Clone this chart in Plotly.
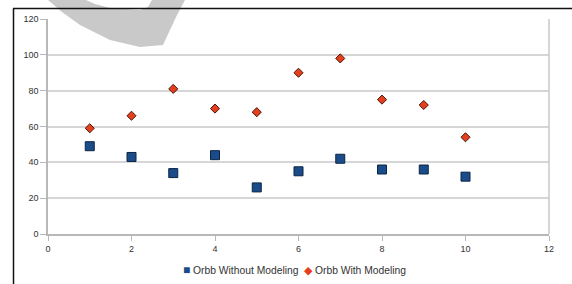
import plotly.graph_objects as go

x_vals = [1, 2, 3, 4, 5, 6, 7, 8, 9, 10]
without_modeling = [49, 43, 34, 44, 26, 35, 42, 36, 36, 32]
with_modeling = [59, 66, 81, 70, 68, 90, 98, 75, 72, 54]
series_names = ["Orbb Without Modeling", "Orbb With Modeling"]
series_colors = ["#1b4c8a", "#e5401d"]
x_ticks = [0, 2, 4, 6, 8, 10, 12]
y_ticks = [0, 20, 40, 60, 80, 100, 120]

W, H = 572, 284
L, R, T, B = 48, 23, 19, 50
PW, PH = W - L - R, H - T - B


def px(x):
    return (x - L) / PW


def py(y):
    return (H - B - y) / PH


fig = go.Figure()
fig.add_trace(go.Scatter(
    x=x_vals, y=without_modeling, mode="markers", name=series_names[0],
    marker=dict(symbol="square", size=9, color=series_colors[0],
                line=dict(color="#0b2444", width=1)),
))
fig.add_trace(go.Scatter(
    x=x_vals, y=with_modeling, mode="markers", name=series_names[1],
    marker=dict(symbol="diamond", size=7, color=series_colors[1],
                line=dict(color="#4a1608", width=1)),
))

# watermark swoosh
pts = [(48, 0), (62, 12), (80, 25), (110, 40), (140, 47), (163, 45),
       (170, 30), (177, 15), (185, 0), (152, 0), (148, 7), (140, 10),
       (110, 8), (95, 4), (86, 0)]
path = "M " + " L ".join(f"{px(a):.4f},{py(b):.4f}" for a, b in pts) + " Z"
fig.add_shape(type="path", path=path, xref="paper", yref="paper",
              fillcolor="#c9c9c9", line=dict(width=0), layer="below")

# screenshot frame lines
fig.add_shape(type="line", xref="paper", yref="paper",
              x0=px(13), x1=px(575), y0=py(8.5), y1=py(8.5),
              line=dict(color="#111111", width=1.5))
fig.add_shape(type="line", xref="paper", yref="paper",
              x0=px(13.5), x1=px(13.5), y0=py(8.5), y1=py(290),
              line=dict(color="#111111", width=1.5))
# right plot border
fig.add_shape(type="line", xref="paper", yref="paper",
              x0=1, x1=1, y0=0, y1=1,
              line=dict(color="#c8c8c8", width=1.5))

# compact legend (symbol close to text, as in the original)
legend_text = (
    f"<span style='color:{series_colors[0]};font-size:12px'>■</span> {series_names[0]}"
    "&nbsp;&nbsp;"
    f"<span style='color:{series_colors[1]};font-size:11px'>◆</span> {series_names[1]}"
)
fig.add_annotation(text=legend_text, xref="paper", yref="paper",
                   x=px(294), y=py(270), xanchor="center", yanchor="middle",
                   showarrow=False,
                   font=dict(family="Liberation Sans, Arial, sans-serif",
                             size=10.3, color="#333333"))

fig.update_layout(
    width=W, height=H,
    margin=dict(l=L, r=R, t=T, b=B, autoexpand=False),
    paper_bgcolor="white", plot_bgcolor="white",
    font=dict(family="Liberation Sans, Arial, sans-serif", size=9, color="#333333"),
    showlegend=False,
    xaxis=dict(range=[0, 12], tickvals=x_ticks, showgrid=False, zeroline=False,
               showline=True, linecolor="#b8b8b8", linewidth=1.5,
               ticks="outside", ticklen=5, tickcolor="#b8b8b8"),
    yaxis=dict(range=[0, 120], tickvals=y_ticks, showgrid=True,
               gridcolor="#d6d6d6", gridwidth=1.5, zeroline=False,
               showline=True, linecolor="#b8b8b8", linewidth=1.5,
               ticks="outside", ticklen=6, tickcolor="#b8b8b8"),
)

fig.write_html("out.html", config={"displayModeBar": False},
               post_script="document.body.style.margin='0';document.body.style.overflow='hidden';")
